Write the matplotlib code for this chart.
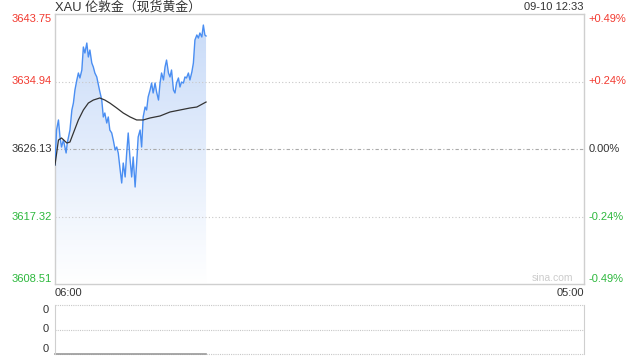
import matplotlib

matplotlib.use("Agg")
import matplotlib.pyplot as plt  # noqa: E402
import numpy as np  # noqa: E402
from matplotlib.colors import LinearSegmentedColormap  # noqa: E402
from matplotlib.patches import Polygon  # noqa: E402
from matplotlib.transforms import blended_transform_factory  # noqa: E402

plt.rcParams["font.family"] = ["Liberation Sans", "Noto Sans CJK SC", "DejaVu Sans"]

# minutes after 06:00 (session runs to 05:00 next day = 1380 min)
minutes = [0, 4, 9, 13, 17, 22, 29, 32, 39, 44, 48, 52, 57, 61, 65, 70, 74, 78,
           83, 87, 91, 96, 100, 104, 109, 116, 122, 126, 130, 135, 139, 143, 148,
           152, 157, 161, 165, 170, 174, 178, 183, 187, 191, 196, 200, 204, 209,
           213, 217, 222, 226, 230, 235, 239, 243, 248, 252, 256, 261, 265, 270,
           274, 278, 283, 287, 291, 296, 300, 304, 309, 313, 317, 322, 326, 330,
           335, 339, 343, 348, 352, 357, 361, 365, 370, 374, 378, 383, 387, 391,
           394]
prices = [3624.04, 3628.61, 3629.92, 3627.70, 3626.39, 3627.30, 3625.61, 3626.91,
          3628.61, 3631.22, 3632.13, 3633.83, 3635.14, 3636.05, 3635.40, 3636.44,
          3639.44, 3638.66, 3639.96, 3638.14, 3639.05, 3637.35, 3636.83, 3636.05,
          3635.53, 3633.83, 3632.52, 3630.31, 3630.83, 3629.52, 3630.31, 3628.61,
          3628.22, 3627.30, 3626.00, 3626.39, 3625.61, 3623.39, 3621.69, 3624.30,
          3622.48, 3625.61, 3628.22, 3624.69, 3622.48, 3625.09, 3621.17, 3624.30,
          3627.70, 3628.61, 3626.39, 3630.31, 3631.61, 3631.22, 3632.92, 3633.83,
          3634.74, 3633.44, 3634.74, 3633.57, 3632.52, 3634.74, 3636.05, 3635.14,
          3636.83, 3637.74, 3636.05, 3635.53, 3636.44, 3633.83, 3633.44, 3634.74,
          3635.40, 3634.22, 3634.87, 3634.74, 3635.53, 3635.40, 3636.05, 3635.14,
          3636.18, 3637.35, 3640.35, 3641.01, 3640.61, 3641.27, 3640.75, 3642.31,
          3641.01, 3640.88]
avg_minutes = [0, 9, 17, 31, 39, 48, 61, 74, 87, 100, 117, 130, 143, 161, 178,
               196, 213, 230, 248, 274, 300, 326, 352, 370, 394]
avg_prices = [3624.04, 3627.30, 3627.57, 3626.91, 3627.04, 3628.22, 3629.92,
              3631.22, 3632.13, 3632.52, 3632.79, 3632.52, 3632.13, 3631.48,
              3630.83, 3630.31, 3629.92, 3629.92, 3630.18, 3630.44, 3630.96,
              3631.22, 3631.48, 3631.61, 3632.26]
volumes = [0] * len(minutes)

prev_close = 3626.13
price_ticks = [3643.75, 3634.94, 3626.13, 3617.32, 3608.51]
pct_labels = ["+0.49%", "+0.24%", "0.00%", "-0.24%", "-0.49%"]
session_len = 1380
title = "XAU 伦敦金（现货黄金）"
stamp = "09-10 12:33"
time_labels = ["06:00", "05:00"]

RED, GREEN, DARK = "#f23a30", "#2db83d", "#333333"
BORDER = "#cfcfcf"
W, H = 640, 360

fig = plt.figure(figsize=(6.4, 3.6), dpi=100)


def rect(x0, y0, x1, y1):
    return [x0 / W, 1 - y1 / H, (x1 - x0) / W, (y1 - y0) / H]


ax = fig.add_axes(rect(55, 14, 584, 284))
ax.set_xlim(0, session_len)
ax.set_ylim(price_ticks[-1], price_ticks[0])
ax.set_xticks([])
ax.set_yticks([])
for s in ax.spines.values():
    s.set_color(BORDER)
    s.set_linewidth(1)

# gradient fill under the price line
cmap = LinearSegmentedColormap.from_list("fade", ["#ffffff", "#c7daf8"])
grad = np.linspace(0, 1, 256).reshape(-1, 1)
verts = list(zip(minutes, prices)) + [(minutes[-1], price_ticks[-1]), (minutes[0], price_ticks[-1])]
poly = Polygon(verts, closed=True, facecolor="none", edgecolor="none")
ax.add_patch(poly)
im = ax.imshow(grad, extent=[0, session_len, price_ticks[-1], price_ticks[0]],
               origin="lower", aspect="auto", cmap=cmap, zorder=1)
im.set_clip_path(poly)

for p in price_ticks[1:-1]:
    if p == prev_close:
        ax.axhline(p, color="#aaaaaa", lw=0.8, ls=(0, (3, 2, 1, 2)), zorder=2)
    else:
        ax.axhline(p, color="#c8c8c8", lw=0.8, ls=(0, (1, 2)), zorder=2)

ax.plot(minutes, prices, color="#4a8ef2", lw=1.0, zorder=3)
ax.plot(avg_minutes, avg_prices, color="#333333", lw=0.9, zorder=4)

# axis labels
tl = blended_transform_factory(ax.transAxes, ax.transData)
for i, (p, pc) in enumerate(zip(price_ticks, pct_labels)):
    col = RED if p > prev_close else (GREEN if p < prev_close else DARK)
    va = "top" if i == 0 else ("bottom" if i == len(price_ticks) - 1 else "center")
    ax.text(-0.006, p, f"{p:.2f}", transform=tl, ha="right", va=va, color=col, fontsize=8)
    ax.text(1.009, p, pc, transform=tl, ha="left", va=va, color=col, fontsize=8)

ax.text(0, -0.015, time_labels[0], transform=ax.transAxes, ha="left", va="top",
        fontsize=8, color=DARK)
ax.text(1, -0.015, time_labels[1], transform=ax.transAxes, ha="right", va="top",
        fontsize=8, color=DARK)
ax.text(0, 1.026, title, transform=ax.transAxes, ha="left", va="center",
        fontsize=9.3, color=DARK)
ax.text(1, 1.026, stamp, transform=ax.transAxes, ha="right", va="center",
        fontsize=8, color=DARK)
ax.text(0.94, 0.005, "sina.com", transform=ax.transAxes, ha="center", va="bottom",
        fontsize=7.5, color="#cccccc")

# volume panel
vax = fig.add_axes(rect(55, 305, 584, 354))
vax.set_xlim(0, session_len)
vax.set_ylim(0, 1)
vax.set_xticks([])
vax.set_yticks([])
vax.spines["top"].set_visible(False)
vax.spines["bottom"].set_visible(False)
vax.spines["left"].set_color(BORDER)
vax.spines["right"].set_color(BORDER)
for yy in (0, 0.5, 1):
    vax.axhline(yy, color="#c8c8c8", lw=0.8, ls=(0, (1, 1)), clip_on=False)
vax.plot(minutes, volumes, color="#999999", lw=1.2, clip_on=False)
for yy, va in ((1, "top"), (0.5, "center"), (0, "bottom")):
    vax.text(-0.012, yy, "0", transform=vax.transAxes, ha="right", va=va,
             fontsize=8, color=DARK)

fig.savefig("out.png", dpi=100)
